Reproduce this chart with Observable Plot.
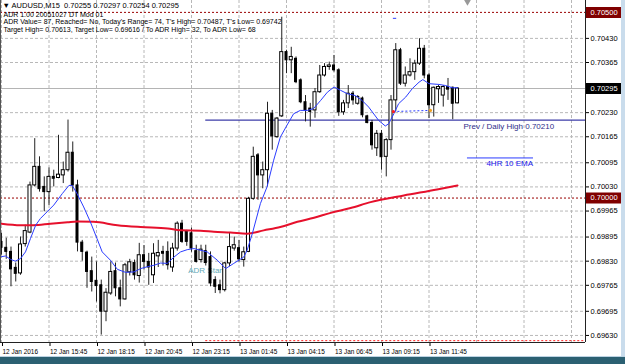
<!DOCTYPE html>
<html><head><meta charset="utf-8">
<script src="https://cdn.jsdelivr.net/npm/d3@7"></script>
<script src="https://cdn.jsdelivr.net/npm/@observablehq/plot@0.6"></script>
<style>
html,body{margin:0;padding:0;background:#fff;}
#wrap{position:relative;width:625px;height:364px;overflow:hidden;background:#fff;}
#rstrip{position:absolute;left:621px;top:0;width:4px;height:357px;background:#c9dcec;}
#bband{position:absolute;left:0;top:356px;width:625px;height:8px;background:#2b6072;border-top:1px solid #bcd3e3;}
</style></head><body><div id="wrap"><div id="rstrip"></div><div id="bband"></div></div>
<script>
// ---- data (AUDUSD M15, 12 Jan 13:15 -> 13 Jan 13:15) ----
const symbol = "AUDUSD,M15";
const opens  = [0.69882,0.69866,0.69855,0.69812,0.69797,0.69876,0.69907,0.70034,0.70084,0.70030,0.70016,0.70057,0.70054,0.70061,0.70075,0.70122,0.70034,0.69880,0.69853,0.69803,0.69777,0.69765,0.69694,0.69743,0.69803,0.69757,0.69727,0.69800,0.69825,0.69790,0.69846,0.69828,0.69792,0.69843,0.69855,0.69855,0.69813,0.69864,0.69931,0.69909,0.69905,0.69857,0.69833,0.69857,0.69841,0.69779,0.69765,0.69752,0.69824,0.69864,0.69865,0.69833,0.69855,0.69998,0.70115,0.70061,0.70075,0.70227,0.70164,0.70220,0.70393,0.70371,0.70375,0.70317,0.70258,0.70241,0.70236,0.70285,0.70330,0.70353,0.70357,0.70344,0.70231,0.70255,0.70281,0.70254,0.70268,0.70220,0.70202,0.70134,0.70173,0.70111,0.70156,0.70263,0.70398,0.70308,0.70330,0.70339,0.70362,0.70402,0.70330,0.70250,0.70293,0.70276,0.70299,0.70297,0.70255];
const highs  = [0.69905,0.69892,0.69868,0.69825,0.69895,0.69927,0.70043,0.70160,0.70111,0.70057,0.70081,0.70075,0.70169,0.70097,0.70210,0.70151,0.70048,0.69886,0.69857,0.69841,0.69828,0.69779,0.69756,0.69828,0.69825,0.69779,0.69824,0.69835,0.69833,0.69878,0.69872,0.69851,0.69877,0.69886,0.69870,0.69882,0.69878,0.69936,0.69940,0.69913,0.69919,0.69873,0.69873,0.69873,0.69855,0.69788,0.69779,0.69827,0.69905,0.69895,0.69886,0.69868,0.70002,0.70137,0.70120,0.70097,0.70258,0.70236,0.70217,0.70487,0.70398,0.70406,0.70380,0.70321,0.70276,0.70255,0.70295,0.70357,0.70362,0.70366,0.70384,0.70348,0.70263,0.70303,0.70287,0.70276,0.70272,0.70223,0.70209,0.70182,0.70182,0.70160,0.70276,0.70416,0.70403,0.70353,0.70375,0.70371,0.70429,0.70411,0.70335,0.70299,0.70303,0.70303,0.70322,0.70299,0.70297];
const lows   = [0.69846,0.69835,0.69761,0.69774,0.69792,0.69868,0.69904,0.70030,0.70016,0.69963,0.69980,0.70030,0.70052,0.70039,0.70070,0.70016,0.69855,0.69830,0.69757,0.69747,0.69720,0.69631,0.69667,0.69738,0.69734,0.69707,0.69725,0.69790,0.69779,0.69771,0.69806,0.69765,0.69770,0.69813,0.69817,0.69806,0.69800,0.69857,0.69878,0.69870,0.69854,0.69825,0.69825,0.69817,0.69761,0.69743,0.69742,0.69747,0.69815,0.69857,0.69827,0.69814,0.69853,0.69994,0.69994,0.70025,0.70030,0.70129,0.70161,0.70217,0.70335,0.70335,0.70308,0.70254,0.70205,0.70191,0.70215,0.70282,0.70326,0.70344,0.70339,0.70220,0.70223,0.70241,0.70250,0.70250,0.70216,0.70200,0.70129,0.70112,0.70075,0.70057,0.70129,0.70232,0.70303,0.70299,0.70326,0.70317,0.70357,0.70321,0.70214,0.70218,0.70255,0.70245,0.70263,0.70211,0.70254];
const closes = [0.69866,0.69855,0.69808,0.69796,0.69875,0.69911,0.70034,0.70084,0.70024,0.70016,0.70057,0.70052,0.70063,0.70075,0.70122,0.70034,0.69880,0.69855,0.69801,0.69774,0.69763,0.69694,0.69745,0.69801,0.69757,0.69727,0.69819,0.69827,0.69792,0.69846,0.69828,0.69813,0.69850,0.69852,0.69850,0.69819,0.69864,0.69931,0.69882,0.69882,0.69864,0.69828,0.69861,0.69825,0.69770,0.69761,0.69752,0.69824,0.69868,0.69873,0.69835,0.69854,0.69998,0.70111,0.70061,0.70075,0.70227,0.70166,0.70214,0.70393,0.70371,0.70380,0.70312,0.70258,0.70236,0.70232,0.70285,0.70330,0.70353,0.70357,0.70344,0.70231,0.70255,0.70281,0.70263,0.70272,0.70223,0.70202,0.70142,0.70173,0.70110,0.70156,0.70263,0.70398,0.70308,0.70330,0.70339,0.70362,0.70402,0.70330,0.70250,0.70297,0.70299,0.70299,0.70292,0.70254,0.70295];

// 4HR 10 EMA (thin blue) read at bar positions
const emaBar = [0,0.84,1.9,2.9,4.0,5.05,6.1,7.2,8.2,9.6,11,12.8,14.2,14.9,15.9,17.3,18.7,20.1,21.2,22.9,24.4,26.1,27.9,29.3,30.7,32.1,33.5,34.9,36.3,37.7,39.1,40.5,43.3,45.4,47.2,48.9,51,51.7,52.8,54.5,55.9,57.3,58.7,60.1,61.5,62.9,64.4,65.7,67.2,68.6,70,71.4,72.8,74.5,75.9,77.3,79.4,80.8,81.5,82.6,83.6,85.1,86.5,87.9,88.7,90,92.1,93.5,94.9,96];
const emaVal = [0.69842,0.69844,0.69835,0.69830,0.69837,0.69855,0.69891,0.69927,0.69945,0.69963,0.69981,0.70012,0.70034,0.70034,0.70012,0.69976,0.69936,0.69891,0.69855,0.69833,0.69808,0.69800,0.69801,0.69810,0.69815,0.69819,0.69825,0.69824,0.69841,0.69855,0.69861,0.69864,0.69855,0.69833,0.69810,0.69824,0.69841,0.69859,0.69904,0.69985,0.70030,0.70102,0.70164,0.70196,0.70227,0.70236,0.70236,0.70241,0.70263,0.70285,0.70299,0.70290,0.70281,0.70276,0.70263,0.70245,0.70209,0.70194,0.70200,0.70227,0.70254,0.70272,0.70295,0.70312,0.70319,0.70308,0.70306,0.70303,0.70297,0.70297];

// long moving average (thick red)
const maBar = [0,4,6.7,10.3,13.9,16,19.4,24.4,29.3,35,37.7,41.9,44.7,48.2,51.7,55.2,58.7,62.3,65.8,69.3,73.5,77.7,84.7,91.7,96];
const maVal = [0.69931,0.69927,0.69927,0.69931,0.69935,0.69937,0.69936,0.69927,0.69922,0.69918,0.69913,0.69912,0.69909,0.69907,0.69904,0.69913,0.69922,0.69936,0.69947,0.69960,0.69973,0.69989,0.70007,0.70023,0.70034];

// axes
const timeLabels = ["12 Jan 2016","12 Jan 15:45","12 Jan 18:15","12 Jan 20:45","12 Jan 23:15","13 Jan 01:45","13 Jan 04:15","13 Jan 06:45","13 Jan 09:15","13 Jan 11:45"];
const timeLabelBars = [0,10,20,30,40,50,60,70,80,90];
const gridBars = [0,10,20,30,40,50,60,70,80,90,100,110,120];
const priceTicks = [0.70430,0.70365,0.70295,0.70230,0.70165,0.70095,0.70030,0.69965,0.69895,0.69830,0.69765,0.69695,0.69630];
const bidPrice = 0.70295;

// levels
const roundLevels = [0.70500, 0.70000];
const prevDailyHigh = 0.70210;
const adrTargetLow = 0.69616;
const dayStartBar = 43;
const headerLines = [
  "ADR 1.00 20051027 DT Mod 01",
  "ADR Value= 87, Reached= No, Today's Range= 74, T's High= 0.70487, T's Low= 0.69742",
  "Target High= 0.70613, Target Low= 0.69616 / To ADR High= 32, To ADR Low= 68"
];
// annotations [bar, price]
const prevHighLabel = {bar: 106.8, price: 0.70193, text: "Prev / Daily High 0.70210"};
const emaLabel = {bar: 107.0, price: 0.70094, text: "4HR 10 EMA"};
const emaLegendLine = {bar1: 98.1, bar2: 112.0, price: 0.70108};
const adrStartLabel = {bar: 43.1, price: 0.69806, text: "ADR Start"};
const tradeLine = {bar1: 82.5, price1: 0.70233, bar2: 90.3, price2: 0.70236};
const topDash = {bar1: 82.5, bar2: 83.2, price: 0.70484};
const shiftMarker = {bar: 98.1, price: 0.70528};

// ---- build ----
const fmt5 = d3.format(".5f");
const candles = opens.map((o, i) => ({i, o, h: highs[i], l: lows[i], c: closes[i]}));
const bull = candles.filter(d => d.c >= d.o), bear = candles.filter(d => d.c < d.o);
const ema = emaBar.map((b, k) => ({b, v: emaVal[k]}));
const ma = maBar.map((b, k) => ({b, v: maVal[k]}));
const last = candles[candles.length - 1];
const headerTop = `\u25BC ${symbol}  ${fmt5(last.o)} ${fmt5(last.h)} ${fmt5(last.l)} ${fmt5(last.c)}`;

const xMin = -0.2105, xMax = 122.947, tagW = 7.6;
const yMin = 0.69611, yMax = 0.70532;

const tags = [
  {v: roundLevels[0], bg: "#800000"},
  {v: bidPrice, bg: "#000000"},
  {v: roundLevels[1], bg: "#800000"}
];
const hLevels = roundLevels.map(v => ({y: v, x1: xMin, x2: xMax}));
const dayLevels = [{y: adrTargetLow, x1: dayStartBar, x2: xMax}];
const prevLine = [{y: prevDailyHigh, x1: dayStartBar, x2: xMax}];
const bidLine = [{y: bidPrice, x1: xMin, x2: xMax}];
const labelByBar = new Map(timeLabelBars.map((b, k) => [b, timeLabels[k]]));

const chart = Plot.plot({
  width: 625, height: 364,
  marginLeft: 0, marginRight: 40, marginTop: 0, marginBottom: 22,
  style: {fontFamily: "'Liberation Sans', Arial, sans-serif", fontSize: "7.5px", background: "white", color: "#000", overflow: "visible"},
  x: {domain: [xMin, xMax], axis: null},
  y: {domain: [yMin, yMax], axis: null},
  marks: [
    Plot.gridY(priceTicks, {stroke: "#b8b8b8", strokeOpacity: 1, strokeDasharray: "3,2"}),
    Plot.gridX(gridBars, {stroke: "#b8b8b8", strokeOpacity: 1, strokeDasharray: "3,2"}),
    Plot.text([adrStartLabel], {x: "bar", y: "price", text: "text", fill: "#62aab8", fontSize: 8, ariaLabel: "adr-start"}),
    Plot.ruleY(bidLine, {y: "y", x1: "x1", x2: "x2", stroke: "#b4b4b4", strokeWidth: 1}),
    Plot.ruleY(hLevels, {y: "y", x1: "x1", x2: "x2", stroke: "#9a0000", strokeWidth: 1, strokeDasharray: "2,2"}),
    Plot.ruleY(dayLevels, {y: "y", x1: "x1", x2: "x2", stroke: "#ff2020", strokeWidth: 1, strokeDasharray: "2,2"}),
    Plot.ruleY(prevLine, {y: "y", x1: "x1", x2: "x2", stroke: "#3c3ca8", strokeWidth: 1.2}),
    // candles
    Plot.ruleX(candles, {x: "i", y1: "l", y2: "h", stroke: "#222", strokeWidth: 1}),
    Plot.rect(bull, {x1: d => d.i - 0.32, x2: d => d.i + 0.32, y1: "o", y2: "c", fill: "white", stroke: "black", strokeWidth: 1}),
    Plot.rect(bear, {x1: d => d.i - 0.21, x2: d => d.i + 0.21, y1: "o", y2: "c", fill: "black", stroke: "black", strokeWidth: 1}),
    // indicators
    Plot.line(ma, {x: "b", y: "v", stroke: "#e6102c", strokeWidth: 2, curve: "monotone-x"}),
    Plot.line(ema, {x: "b", y: "v", stroke: "#2b3cff", strokeWidth: 1, curve: "linear"}),
    // trade line
    Plot.link([tradeLine], {x1: "bar1", y1: "price1", x2: "bar2", y2: "price2", stroke: "#2b3cff", strokeDasharray: "2,2", strokeWidth: 1}),
    Plot.dot([tradeLine], {x: "bar1", y: "price1", r: 1.6, fill: "#ff2020", stroke: "none"}),
    Plot.dot([tradeLine], {x: "bar2", y: "price2", r: 1.6, fill: "#f0a020", stroke: "none"}),
    Plot.ruleY([topDash], {y: "price", x1: "bar1", x2: "bar2", stroke: "#2b3cff", strokeWidth: 1}),
    // labels
    Plot.text([prevHighLabel], {x: "bar", y: "price", text: "text", fill: "#2e2e8a", fontSize: 8, ariaLabel: "prev-high"}),
    Plot.ruleY([emaLegendLine], {y: "price", x1: "bar1", x2: "bar2", stroke: "#2b3cff", strokeWidth: 1}),
    Plot.text([emaLabel], {x: "bar", y: "price", text: "text", fill: "#2020ee", fontSize: 8, ariaLabel: "ema-label"}),
    Plot.text([headerTop], {frameAnchor: "top-left", dx: 2, dy: 2.5, fontSize: 7.5, fill: "#000", ariaLabel: "header-0"}),
    ...headerLines.map((t, k) => Plot.text([t], {frameAnchor: "top-left", dx: 3, dy: 11.5 + 7.5 * k, fontSize: 7, fill: "#000", ariaLabel: "header-" + (k + 1)})),
    // price axis
    Plot.axisY(priceTicks.filter(v => v !== bidPrice), {anchor: "right", tickSize: 3, tickPadding: 2, tickFormat: fmt5, fontSize: 7.5}),
    Plot.ruleY(tags, {y: "v", x1: () => xMax, x2: () => xMax + tagW, stroke: "bg", strokeWidth: 11}),
    Plot.text(tags, {x: () => xMax, y: "v", text: d => fmt5(d.v), dx: 5, textAnchor: "start", fill: "white", fontSize: 7.5}),
    // time axis
    Plot.axisX(timeLabelBars, {anchor: "bottom", tickSize: 4, tickPadding: 2, textAnchor: "start", dx: 1, tickFormat: d => labelByBar.get(d), fontSize: 7.5}),
    // frame
    Plot.ruleX([xMin], {stroke: "#555"}),
    Plot.ruleX([xMax], {stroke: "#222"}),
    Plot.ruleY([yMin], {stroke: "#222", x1: () => xMin, x2: () => xMax}),
    Plot.dot([shiftMarker], {x: "bar", y: "price", symbol: "triangle", rotate: 180, r: 2.5, fill: "#999", stroke: "none"})
  ]
});
document.getElementById("wrap").prepend(chart);

// condense text like the terminal's narrow font
function fit(sel, fn) {
  chart.querySelectorAll(sel).forEach(t => {
    const L = t.getComputedTextLength();
    const w = fn(L);
    if (w > 0) { t.setAttribute("textLength", w); t.setAttribute("lengthAdjust", "spacingAndGlyphs"); }
  });
}
fit('g[aria-label="x-axis tick label"] text', L => L * 0.86);
fit('g[aria-label="header-0"] text', () => 195);
fit('g[aria-label="header-1"] text', () => 103);
fit('g[aria-label="header-2"] text', () => 298);
fit('g[aria-label="header-3"] text', () => 279);
fit('g[aria-label="prev-high"] text', () => 87);
fit('g[aria-label="ema-label"] text', () => 49);
fit('g[aria-label="adr-start"] text', () => 35);
</script>
</body></html>
